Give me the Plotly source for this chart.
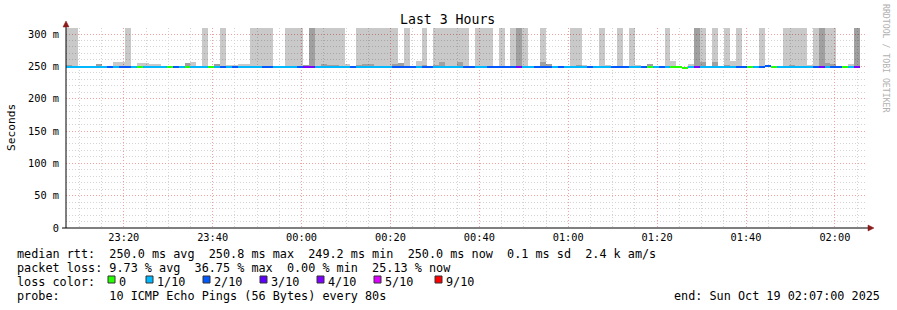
import plotly.graph_objects as go
import pandas as pd

# ---------------- data ----------------
START = "2025-10-18 23:07:00"
END = "2025-10-19 02:07:00"
STEP_SECONDS = 80

# median rtt per 80 s step (ms)
median_ms = [
    249.6, 249.6, 249.6, 249.6, 249.6, 249.6, 249.6, 249.6, 249.6, 249.6,
    249.6, 249.6, 249.6, 249.6, 249.6, 249.6, 249.6, 249.6, 249.6, 249.6,
    249.6, 249.6, 249.6, 249.6, 249.6, 249.6, 249.6, 249.6, 249.6, 249.6,
    249.6, 249.6, 249.6, 249.6, 249.6, 249.6, 249.6, 249.6, 249.6, 249.6,
    249.6, 249.6, 249.6, 249.6, 249.6, 249.6, 249.6, 249.6, 249.6, 249.6,
    249.6, 249.6, 249.6, 249.6, 249.6, 249.6, 249.6, 249.6, 249.6, 249.6,
    249.6, 249.6, 249.6, 249.6, 249.6, 249.6, 249.6, 249.6, 249.6, 249.6,
    249.6, 249.6, 249.6, 249.6, 249.6, 249.6, 249.6, 249.6, 249.6, 249.6,
    249.6, 249.6, 249.6, 249.6, 249.6, 249.6, 249.6, 249.6, 249.6, 249.6,
    249.6, 249.6, 249.6, 249.6, 249.6, 249.6, 249.6, 249.6, 249.6, 249.6,
    249.6, 249.6, 249.6, 249.6, 248.2, 249.6, 249.6, 249.6, 249.6, 249.6,
    249.6, 249.6, 249.6, 249.6, 249.6, 249.6, 249.6, 249.6, 250.6, 249.6,
    249.6, 249.6, 249.6, 249.6, 249.6, 249.6, 249.6, 249.6, 249.6, 249.6,
    249.6, 249.6, 249.6, 249.6,
]

# lost pings out of 10 per step
loss_tenths = [
    1, 1, 1, 1, 1, 1, 1, 2, 1, 2,
    2, 1, 0, 1, 1, 1, 1, 0, 2, 1,
    0, 1, 1, 1, 0, 1, 2, 1, 2, 1,
    1, 1, 1, 2, 2, 1, 1, 1, 1, 2,
    4, 4, 1, 1, 1, 1, 1, 1, 2, 1,
    1, 1, 1, 1, 1, 2, 2, 2, 2, 1,
    2, 2, 1, 1, 1, 1, 1, 2, 2, 1,
    1, 2, 2, 2, 2, 2, 4, 1, 1, 2,
    2, 2, 1, 2, 1, 1, 1, 1, 2, 1,
    1, 1, 2, 2, 2, 1, 1, 2, 0, 1,
    2, 1, 0, 0, 0, 1, 4, 1, 1, 1,
    1, 1, 1, 2, 2, 0, 1, 2, 2, 0,
    1, 1, 1, 1, 1, 1, 2, 4, 1, 2,
    2, 0, 1, 4,
]

# outer (light) smoke top per step, ms (0 = none, 320 = beyond chart top)
smoke_light_ms = [
    320, 320, 0, 0, 0, 253.6, 0, 0, 256.7, 256.7,
    320, 0, 255, 255, 253.6, 253.6, 0, 0, 0, 0,
    255, 257, 0, 320, 0, 253.6, 320, 252, 252, 253.6,
    253.6, 320, 320, 320, 320, 0, 0, 320, 320, 320,
    252, 320, 320, 320, 320, 320, 320, 253.6, 0, 320,
    320, 320, 320, 320, 320, 320, 255, 320, 0, 258,
    320, 0, 320, 320, 320, 320, 320, 320, 0, 320,
    320, 320, 0, 320, 0, 320, 320, 320, 0, 0,
    320, 253.6, 0, 0, 0, 320, 320, 252, 0, 0,
    320, 252, 0, 320, 0, 320, 252, 0, 254, 0,
    0, 320, 258, 0, 0, 253.6, 320, 320, 0, 320,
    0, 320, 258, 320, 0, 0, 0, 320, 0, 0,
    0, 320, 320, 320, 320, 252, 320, 320, 320, 320,
    0, 0, 253.6, 320,
]

# inner (dark) smoke top per step, ms (0 = none)
smoke_dark_ms = [
    252.5, 0, 0, 0, 0, 253.6, 0, 0, 0, 0,
    0, 0, 0, 0, 0, 0, 0, 0, 0, 0,
    255, 0, 0, 0, 0, 253.6, 0, 0, 0, 0,
    0, 0, 0, 0, 0, 0, 0, 0, 0, 0,
    252, 320, 0, 253.6, 252, 252, 0, 0, 0, 252,
    253.6, 253.6, 0, 0, 0, 253.6, 255, 0, 0, 0,
    252, 0, 252, 256.7, 0, 0, 256.7, 0, 0, 0,
    0, 0, 0, 0, 0, 0, 320, 0, 0, 0,
    256.7, 253.6, 0, 0, 0, 0, 252, 0, 0, 0,
    0, 0, 0, 0, 0, 0, 0, 0, 254, 0,
    0, 0, 0, 0, 0, 0, 320, 256, 0, 256,
    0, 252, 0, 0, 0, 0, 0, 0, 0, 0,
    0, 0, 252, 0, 0, 0, 0, 320, 255, 253.6,
    0, 0, 0, 320,
]

loss_levels = [0, 1, 2, 3, 4, 5, 9]
loss_labels = ["0", "1/10", "2/10", "3/10", "4/10", "5/10", "9/10"]
loss_palette = ["#26ff00", "#00b8ff", "#0059ff", "#5e00ff", "#7e00ff", "#dd00ff", "#ff0000"]

y_ticks_ms = [0, 50, 100, 150, 200, 250, 300]
y_ticktext = ["0", "50 m", "100 m", "150 m", "200 m", "250 m", "300 m"]

stats_line = "median rtt:  250.0 ms avg  250.8 ms max  249.2 ms min  250.0 ms now  0.1 ms sd  2.4 k am/s"
loss_line = "packet loss: 9.73 % avg  36.75 % max  0.00 % min  25.13 % now"
probe_line = "probe:       10 ICMP Echo Pings (56 Bytes) every 80s"
end_line = "end: Sun Oct 19 02:07:00 2025"
title_text = "Last 3 Hours"

# ---------------- build ----------------
MONO = "DejaVu Sans Mono"
n = len(median_ms)
t0 = pd.Timestamp(START)
centers = [t0 + pd.Timedelta(seconds=STEP_SECONDS * (i + 0.5)) for i in range(n)]
W_MS = STEP_SECONDS * 1000
SMOKE_BASE = 0.249
color_of = dict(zip(loss_levels, loss_palette))

fig = go.Figure()

light_h = [(v / 1000 - SMOKE_BASE) if v > 0 else None for v in smoke_light_ms]
fig.add_trace(go.Bar(x=centers, y=light_h, base=SMOKE_BASE, width=W_MS,
                     marker=dict(color="rgba(0,0,0,0.21)", line=dict(width=0)),
                     hoverinfo="skip", showlegend=False))
dark_h = [(v / 1000 - SMOKE_BASE) if v > 0 else None for v in smoke_dark_ms]
fig.add_trace(go.Bar(x=centers, y=dark_h, base=SMOKE_BASE, width=W_MS,
                     marker=dict(color="rgba(0,0,0,0.20)", line=dict(width=0)),
                     hoverinfo="skip", showlegend=False))
LINE_H = 0.003
fig.add_trace(go.Bar(x=centers, y=[LINE_H] * n,
                     base=[m / 1000 - LINE_H / 2 for m in median_ms], width=W_MS,
                     marker=dict(color=[color_of[l] for l in loss_tenths], line=dict(width=0)),
                     hoverinfo="skip", showlegend=False))

L, T, PW, PH = 66, 28, 800, 200
FIG_W, FIG_H = 897, 310


def px(xp):
    return (xp - L) / PW


def py(yp):
    return (T + PH - yp) / PH


GRID_MAJOR = "#f2a0a0"
GRID_MINOR = "#d4d4d4"
DASH = "1px,2px"

fig.update_layout(
    width=FIG_W, height=FIG_H, autosize=False,
    margin=dict(l=L, r=FIG_W - L - PW, t=T, b=FIG_H - T - PH, pad=0),
    paper_bgcolor="white", plot_bgcolor="white",
    barmode="overlay", bargap=0,
    font=dict(family=MONO, color="#000000"),
    xaxis=dict(type="date", range=[START, END], tickformat="%H:%M",
               tick0="2025-10-18 23:20:00", dtick=20 * 60 * 1000,
               showgrid=True, gridcolor=GRID_MAJOR, griddash=DASH, gridwidth=1,
               minor=dict(dtick=5 * 60 * 1000, showgrid=True, gridcolor=GRID_MINOR,
                          griddash=DASH, gridwidth=1, ticks=""),
               showline=False, zeroline=False, ticks="", ticklabelstandoff=2,
               tickfont=dict(family=MONO, size=10.3, color="#000000"),
               fixedrange=True),
    yaxis=dict(range=[0, 0.3093], tickmode="array",
               tickvals=[v / 1000 for v in y_ticks_ms], ticktext=y_ticktext,
               showgrid=True, gridcolor=GRID_MAJOR, griddash=DASH, gridwidth=1,
               minor=dict(tick0=0, dtick=0.01, showgrid=True, gridcolor=GRID_MINOR,
                          griddash=DASH, gridwidth=1, ticks=""),
               showline=False, zeroline=False, ticks="", ticklabelstandoff=6,
               tickfont=dict(family=MONO, size=10.3, color="#000000"),
               fixedrange=True),
)

shapes = []
# axis lines
shapes.append(dict(type="line", xref="paper", yref="paper", x0=px(62), x1=px(869),
                   y0=0, y1=0, line=dict(color="#000000", width=1), layer="above"))
shapes.append(dict(type="line", xref="paper", yref="paper", x0=0, x1=0,
                   y0=py(228), y1=py(25), line=dict(color="#000000", width=1), layer="above"))
ARROW = "#8b1a1a"
shapes.append(dict(type="path", xref="paper", yref="paper",
                   path=f"M {px(63)} {py(27)} L {px(69)} {py(27)} L {px(66)} {py(21)} Z",
                   fillcolor=ARROW, line=dict(color=ARROW, width=0.5), layer="above"))
shapes.append(dict(type="path", xref="paper", yref="paper",
                   path=f"M {px(868)} {py(225)} L {px(868)} {py(231)} L {px(874)} {py(228)} Z",
                   fillcolor=ARROW, line=dict(color=ARROW, width=0.5), layer="above"))

annotations = []


def ann(text, xp, yp, size, xanchor="left", color="#000000", angle=0):
    annotations.append(dict(text=text.replace(" ", "\u00a0"), xref="paper", yref="paper",
                            x=px(xp), y=py(yp), xanchor=xanchor, yanchor="middle",
                            showarrow=False, textangle=angle,
                            font=dict(family=MONO, size=size, color=color)))


LEG = 11.8
ann(title_text, 447.5, 20, 13.2, xanchor="center")
ann("Seconds", 11, 127, 11.2, xanchor="center", angle=-90)
ann("RRDTOOL / TOBI OETIKER", 886, 59, 8.2, xanchor="center", color="#b0b0b0", angle=90)
ann(stats_line, 14.5, 254, LEG)
ann(loss_line, 14.5, 268, LEG)
ann("loss color:", 14.5, 282, LEG)
ann(probe_line, 14.5, 296, LEG)
ann(end_line, 882, 296, LEG, xanchor="right")

sq_x = [108, 146, 203, 260, 317, 374, 435]
for xs, lab, col in zip(sq_x, loss_labels, loss_palette):
    shapes.append(dict(type="rect", xref="paper", yref="paper",
                       x0=px(xs), x1=px(xs + 7), y0=py(283), y1=py(276),
                       fillcolor=col, line=dict(color="#333333", width=1), layer="above"))
    ann(lab, xs + 9, 282, LEG)

fig.update_layout(shapes=shapes, annotations=annotations)
fig.write_html("out.html")
